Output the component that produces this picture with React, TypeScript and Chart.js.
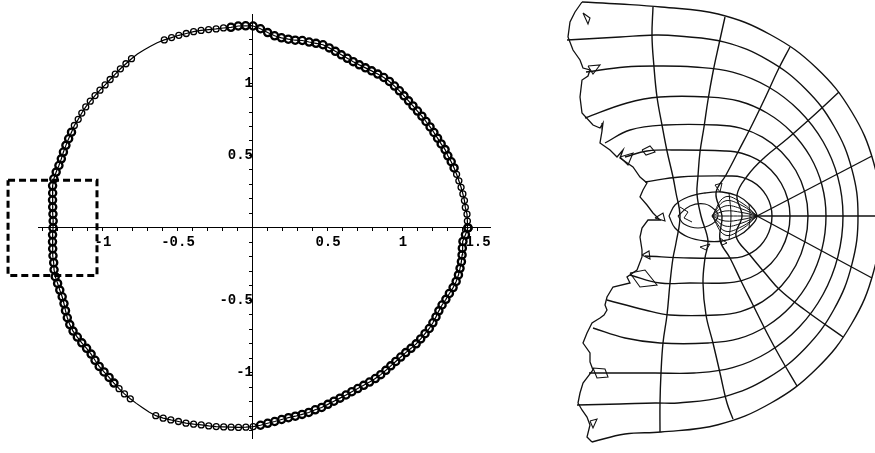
import React, { useEffect, useRef } from "react";
import { Chart, registerables } from "chart.js";

Chart.register(...registerables);

// ---------------- Left panel: measured boundary points (polar about the centre) ----------------
const CENTER_X = 0.05;
const CENTER_Y = 0;
const ANGLE_STEP_DEG = 2;
const Y_UNIT_RATIO = 150 / 152;
// radius read every 2 degrees, starting at 0 deg (positive x axis), counter-clockwise
const RADII = [
  1.383, 1.380, 1.380, 1.373, 1.373, 1.370, 1.367, 1.363, 1.360, 1.357,
  1.353, 1.347, 1.347, 1.340, 1.337, 1.335, 1.333, 1.331, 1.330, 1.328,
  1.327, 1.328, 1.330, 1.333, 1.335, 1.337, 1.335, 1.330, 1.325, 1.320,
  1.317, 1.317, 1.320, 1.325, 1.332, 1.340, 1.347, 1.343, 1.340, 1.340,
  1.333, 1.333, 1.337, 1.347, 1.367, 1.393, 1.413, 1.417, 1.420, 1.417,
  1.420, 1.423, 1.430, 1.437, 1.443, 1.447, 1.453, 1.457, 1.463, 1.467,
  1.467, 1.467, 1.467, 1.463, 1.457, 1.453, 1.447, 1.443, 1.440, 1.440,
  1.440, 1.440, 1.440, 1.437, 1.433, 1.433, 1.427, 1.423, 1.420, 1.417,
  1.413, 1.413, 1.417, 1.420, 1.417, 1.407, 1.400, 1.393, 1.387, 1.383,
  1.383, 1.387, 1.390, 1.393, 1.397, 1.400, 1.407, 1.410, 1.407, 1.407,
  1.407, 1.413, 1.423, 1.433, 1.440, 1.443, 1.440, 1.437, 1.433, 1.433,
  1.440, 1.447, 1.450, 1.453, 1.460, 1.467, 1.473, 1.477, 1.480, 1.483,
  1.487, 1.487, 1.480, 1.470, 1.460, 1.453, 1.443, 1.433, 1.427, 1.420,
  1.413, 1.407, 1.403, 1.397, 1.390, 1.380, 1.367, 1.357, 1.347, 1.340,
  1.337, 1.333, 1.330, 1.323, 1.320, 1.313, 1.307, 1.303, 1.300, 1.297,
  1.297, 1.298, 1.300, 1.302, 1.302, 1.300, 1.298, 1.298, 1.300, 1.303,
  1.310, 1.317, 1.320, 1.323, 1.327, 1.327, 1.325, 1.323, 1.325, 1.333,
  1.340, 1.350, 1.357, 1.360, 1.360, 1.360, 1.357, 1.353, 1.353, 1.367,
];
// angular ranges (degrees) where the markers are sparse / absent in the reference
const SPARSE_RANGES = [[2, 16], [100, 150], [230, 268]];
const BARE_RANGES = [[118, 124], [236, 240]];
// dashed zoom box (data units)
const BOX_X = [-1.633, -1.04];
const BOX_Y = [0.329, -0.329];
const LEFT_X_RANGE = [-1.4333, 1.58];
const LEFT_Y_RANGE = [-1.4539, 1.4737];
const TICK_STEP = 0.1;

// ---------------- Right panel: mapped grid (units relative to the pole) ----------------
type P = [number, number];
const ARC_1: P[] = [[-112,34],[-77,39],[-25,40],[-14.6,38.6],[-5,34.6],[3.3,28.3],[9.6,20],[13.6,10.4],[15,0],[13.6,-10.9],[9.6,-21],[3.3,-29.7],[-5,-36.4],[-14.6,-40.6],[-25,-42],[-67,-42],[-112,-40]];
const ARC_2: P[] = [[-132,59],[-110,65],[-77,66],[-32,65],[-15.2,62.8],[0.5,56.3],[14,46],[24.3,32.5],[30.8,16.8],[33,0],[30.8,-17.3],[24.3,-33.5],[14,-47.4],[0.5,-58],[-15.2,-64.7],[-32,-67],[-67,-67],[-97,-67],[-127,-59]];
const ARC_3: P[] = [[-152,73],[-127,86],[-92,91],[-40,91],[-16.4,87.9],[5.5,78.8],[24.3,64.3],[38.8,45.5],[47.9,23.6],[51,0],[47.9,-25.6],[38.8,-49.5],[24.3,-70],[5.5,-85.7],[-16.4,-95.6],[-40,-99],[-87,-99],[-112,-94],[-150,-84]];
const ARC_4: P[] = [[-172,98],[-130,113],[-97,119],[-49,119],[-18.4,115],[10,103],[34.4,84.1],[53.2,59.5],[65,30.8],[69,0],[65,-32.9],[53.2,-63.5],[34.4,-89.8],[10,-110],[-18.4,-122.7],[-49,-127],[-97,-127],[-132,-122],[-164,-112]];
const ARC_5: P[] = [[-171,144],[-132,149],[-100,150],[-63,149],[-24.4,143.9],[11.5,129],[42.3,105.3],[66,74.5],[80.9,38.6],[86,0],[80.9,-40.6],[66,-78.5],[42.3,-111],[11.5,-136],[-24.4,-151.7],[-63,-157],[-102,-157],[-168,-157]];
const ARC_6: P[] = [[-190,176],[-137,179],[-102,181],[-79,180],[-32.4,173.9],[11,155.9],[48.3,127.3],[76.9,90],[94.9,46.6],[101,0],[94.9,-48.4],[76.9,-93.5],[48.3,-132.2],[11,-161.9],[-32.4,-180.6],[-79,-187],[-102,-187],[-137,-188],[-180,-189]];
const ARC_7: P[] = [[-175,214],[-137,212],[-96,209],[-39,202],[14,181],[59.5,148],[94.5,104.5],[116.5,54],[124,0],[116.5,-56],[94.5,-108],[59.5,-152.7],[14,-187],[-39,-208.7],[-96,-216],[-132,-218],[-165,-226]];

const RAY_1: P[] = [[-104,209],[-105,180],[-103,149],[-100,119],[-95,91],[-90,65],[-84,39],[-81,23],[-77,0],[-81,-27],[-84,-42],[-87,-67],[-90,-99],[-94,-127],[-96,-157],[-97,-187],[-97,-216]];
const RAY_2: P[] = [[-32,199],[-38,172],[-44,144],[-49,116],[-53,89],[-57,64],[-59,40],[-60,22],[-56,0],[-49,-25],[-52,-42],[-54,-67],[-51,-99],[-44,-127],[-37,-157],[-30,-187],[-24,-203]];
const RAY_3: P[] = [[33,169],[21,146],[9,120],[-5,91],[-19,64],[-31,41],[-41,23],[-35,0],[-37,-24],[-27,-42],[-15,-67],[-5,-87],[10,-117],[23,-141],[40,-170]];
const RAY_4: P[] = [[82,124],[55,99],[30,77],[8,59],[-9,41],[-20,21],[-15,0],[-21,-20],[-7,-39],[8,-57],[23,-74],[48,-94],[86,-121]];
const RAY_5: P[] = [[0,0],[115,60]];
const RAY_6: P[] = [[0,0],[124,0]];
const RAY_7: P[] = [[0,0],[115,-62]];

const EYE_OUTER: P[] = [[-88,0],[-82,11],[-69,19],[-52,23],[-35,24],[-19,20],[-7,11],[0,0],[-7,-11],[-19,-20],[-35,-25],[-52,-25],[-69,-21],[-82,-12],[-88,0]];
const EYE_INNER: P[] = [[-79,0],[-67,10],[-52,12],[-42,6],[-39,0],[-45,-8],[-59,-12],[-73,-8],[-79,0]];
const SPINDLES: P[][] = [
  [[-45,0],[-32,19],[-15,13],[0,0]],
  [[-45,0],[-32,15],[-15,10.5],[0,0]],
  [[-45,0],[-32,10],[-15,7],[0,0]],
  [[-45,0],[-32,5],[-15,3.5],[0,0]],
  [[-45,0],[-32,0],[-15,0],[0,0]],
  [[-45,0],[-32,-5],[-15,-3.5],[0,0]],
  [[-45,0],[-32,-10],[-15,-7],[0,0]],
  [[-45,0],[-32,-15],[-15,-10.5],[0,0]],
  [[-45,0],[-32,-19],[-15,-13],[0,0]],
];
const MERIDIANS: P[][] = [
  [[-28,23],[-26,0],[-28,-24]],
  [[-8,12],[-7,0],[-8,-12]],
];
const EYE_JAGS: P[][] = [
  [[-77,9],[-69,4],[-73,-2],[-65,-6]],
  [[-42,31],[-35,33],[-37,24],[-42,31]],
  [[-57,-31],[-47,-28],[-51,-34],[-57,-31]],
  [[-37,-22],[-30,-27],[-35,-29],[-37,-22]],
];
const EDGE: P[] = [[-175,214],[-182,204],[-187,194],[-189,179],[-184,166],[-177,156],[-174,148],[-167,146],[-169,140],[-175,136],[-177,119],[-175,103],[-164,91],[-157,88],[-154,93],[-155,85],[-157,73],[-147,66],[-140,59],[-134,66],[-137,58],[-124,49],[-117,39],[-110,33],[-114,26],[-117,19],[-110,11],[-104,3],[-97,-4],[-109,-4],[-115,-12],[-117,-21],[-115,-34],[-115,-41],[-120,-54],[-130,-61],[-127,-67],[-144,-71],[-150,-81],[-152,-89],[-150,-94],[-153,-99],[-157,-102],[-165,-107],[-170,-117],[-174,-127],[-167,-137],[-167,-146],[-164,-154],[-174,-167],[-177,-177],[-179,-187],[-175,-194],[-170,-201],[-167,-209],[-170,-221],[-165,-226]];
const EDGE_LOOPS: P[][] = [
  [[-174,203],[-167,198],[-169,192],[-174,203]],
  [[-169,150],[-157,151],[-164,142],[-169,150]],
  [[-115,66],[-107,70],[-102,64],[-111,61],[-115,66]],
  [[-137,59],[-124,63],[-129,51],[-137,59]],
  [[-102,-2],[-94,3],[-92,-5],[-102,-2]],
  [[-115,-39],[-108,-35],[-107,-43],[-115,-39]],
  [[-127,-57],[-112,-54],[-100,-69],[-117,-71],[-127,-57]],
  [[-164,-152],[-152,-153],[-149,-161],[-160,-162],[-164,-152]],
  [[-167,-205],[-160,-203],[-164,-212],[-167,-205]],
];
const RIGHT_X_RANGE = [-197, 118];
const RIGHT_Y_RANGE = [-237, 216];

const INK = "#111";

function pts(list: P[]) {
  return list.map(([x, y]) => ({ x, y }));
}

function tickLabel(v: number | string) {
  const n = Number(v);
  const h = Math.round(n * 2);
  if (Math.abs(n * 2 - h) > 1e-6 || h === 0) return "";
  return String(h / 2);
}

function inRanges(deg: number, ranges: number[][]) {
  return ranges.some(([a, b]) => deg >= a && deg <= b);
}

export default function App() {
  const leftRef = useRef<HTMLCanvasElement>(null);
  const rightRef = useRef<HTMLCanvasElement>(null);

  useEffect(() => {
    const circle = RADII.map((r, i) => {
      const t = (i * ANGLE_STEP_DEG * Math.PI) / 180;
      return { x: CENTER_X + r * Math.cos(t), y: CENTER_Y + r * Math.sin(t) * Y_UNIT_RATIO };
    });
    circle.push(circle[0]);
    const degOf = (i: number) => (i * ANGLE_STEP_DEG) % 360;
    const box = [
      { x: BOX_X[0], y: BOX_Y[0] },
      { x: BOX_X[1], y: BOX_Y[0] },
      { x: BOX_X[1], y: BOX_Y[1] },
      { x: BOX_X[0], y: BOX_Y[1] },
      { x: BOX_X[0], y: BOX_Y[0] },
    ];
    const tickFont = { family: "'Liberation Mono', 'DejaVu Sans Mono', monospace", size: 14, weight: "bold" as const };
    const axisCommon = {
      type: "linear" as const,
      grid: { drawOnChartArea: false, drawTicks: true, tickLength: 3, tickColor: "#000", color: "#000" },
      border: { display: true, color: "#000", width: 1 },
    };
    const left = new Chart(leftRef.current!, {
      type: "scatter",
      data: {
        datasets: [
          {
            data: circle,
            showLine: true,
            borderColor: "#000",
            borderWidth: 1.2,
            pointRadius: (ctx: any) => {
              const d = degOf(ctx.dataIndex);
              if (inRanges(d, BARE_RANGES)) return 0;
              return inRanges(d, SPARSE_RANGES) ? 3 : 3.6;
            },
            pointBorderWidth: (ctx: any) => (inRanges(degOf(ctx.dataIndex), SPARSE_RANGES) ? 1.3 : 2.3),
            pointBorderColor: "#000",
            pointBackgroundColor: "rgba(0,0,0,0)",
            tension: 0,
          } as any,
          {
            data: box,
            showLine: true,
            borderColor: "#000",
            borderWidth: 3,
            borderDash: [7, 4],
            pointRadius: 0,
            clip: false as any,
          },
        ],
      },
      options: {
        responsive: false,
        animation: false,
        devicePixelRatio: 1,
        events: [],
        layout: { padding: { left: 38, top: 5, right: 10, bottom: 3 } },
        plugins: { legend: { display: false }, tooltip: { enabled: false } },
        scales: {
          x: {
            ...axisCommon,
            position: { y: 0 } as any,
            min: LEFT_X_RANGE[0],
            max: LEFT_X_RANGE[1],
            ticks: { stepSize: TICK_STEP, includeBounds: false, autoSkip: false, maxRotation: 0, callback: tickLabel, font: tickFont, color: "#000", padding: 3 },
          },
          y: {
            ...axisCommon,
            position: { x: 0 } as any,
            min: LEFT_Y_RANGE[0],
            max: LEFT_Y_RANGE[1],
            ticks: { stepSize: TICK_STEP, includeBounds: false, autoSkip: false, callback: tickLabel, font: tickFont, color: "#000", padding: 6 },
          },
        },
      },
    });

    const curves: { d: P[]; smooth: boolean; w: number }[] = [];
    [ARC_1, ARC_2, ARC_3, ARC_4, ARC_5, ARC_6, ARC_7].forEach((d) => curves.push({ d, smooth: true, w: 1.4 }));
    [RAY_1, RAY_2, RAY_3, RAY_4, RAY_5, RAY_6, RAY_7].forEach((d) => curves.push({ d, smooth: true, w: 1.4 }));
    curves.push({ d: EYE_OUTER, smooth: true, w: 1.3 });
    curves.push({ d: EYE_INNER, smooth: true, w: 1.1 });
    SPINDLES.forEach((d) => curves.push({ d, smooth: true, w: 1 }));
    MERIDIANS.forEach((d) => curves.push({ d, smooth: true, w: 1 }));
    EYE_JAGS.forEach((d) => curves.push({ d, smooth: false, w: 1 }));
    curves.push({ d: EDGE, smooth: false, w: 1.3 });
    EDGE_LOOPS.forEach((d) => curves.push({ d, smooth: false, w: 1.1 }));

    const right = new Chart(rightRef.current!, {
      type: "scatter",
      data: {
        datasets: curves.map((c) => ({
          data: pts(c.d),
          showLine: true,
          borderColor: INK,
          borderWidth: c.w,
          pointRadius: 0,
          tension: c.smooth ? 0.4 : 0,
        })),
      },
      options: {
        responsive: false,
        animation: false,
        devicePixelRatio: 1,
        events: [],
        layout: { padding: 0 },
        plugins: { legend: { display: false }, tooltip: { enabled: false } },
        scales: {
          x: { type: "linear", display: false, min: RIGHT_X_RANGE[0], max: RIGHT_X_RANGE[1] },
          y: { type: "linear", display: false, min: RIGHT_Y_RANGE[0], max: RIGHT_Y_RANGE[1] },
        },
      },
    });

    return () => {
      left.destroy();
      right.destroy();
    };
  }, []);

  return (
    <div style={{ position: "absolute", left: 0, top: 0, width: 875, height: 453, background: "#fff", overflow: "hidden" }}>
      <canvas ref={leftRef} width={500} height={453} style={{ position: "absolute", left: 0, top: 0, width: 500, height: 453 }} />
      <canvas ref={rightRef} width={315} height={453} style={{ position: "absolute", left: 560, top: 0, width: 315, height: 453 }} />
    </div>
  );
}
